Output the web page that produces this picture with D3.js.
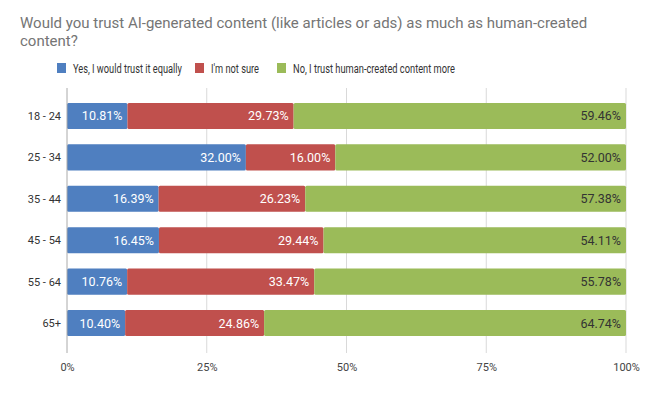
<!DOCTYPE html>
<html>
<head>
<meta charset="utf-8">
<script src="https://d3js.org/d3.v7.min.js"></script>
<style>
  body { margin: 0; background: #fff; }
  svg { font-family: Roboto, "Noto Sans", sans-serif; }
</style>
</head>
<body>
<div class="chart"></div>
<script>
var w = 670;
var h = 407;

// datos
var ages = ["18 - 24", "25 - 34", "35 - 44", "45 - 54", "55 - 64", "65+"];
var seriesNames = ["Yes, I would trust it equally", "I'm not sure", "No, I trust human-created content more"];
var yes = [10.81, 32.00, 16.39, 16.45, 10.76, 10.40];
var notSure = [29.73, 16.00, 26.23, 29.44, 33.47, 24.86];
var no = [59.46, 52.00, 57.38, 54.11, 55.78, 64.74];
var colors = ["#4f7fc0", "#c0504d", "#9bbb59"];
var ticks = [0, 25, 50, 75, 100];

var rows = ages.map(function(a, i) {
  return { age: a, yes: yes[i], notSure: notSure[i], no: no[i] };
});
var keys = ["yes", "notSure", "no"];
var stacked = d3.stack().keys(keys)(rows);

var svg = d3.select(".chart")
  .append("svg")
  .attr("width", w)
  .attr("height", h);

var x = d3.scaleLinear().domain([0, 100]).range([67, 626]);
var y = d3.scaleBand().domain(ages).range([88, 351]).paddingInner(0.37).paddingOuter(0.36);

// titulo
svg.append("text")
  .attr("x", 20).attr("y", 28)
  .attr("fill", "#757575")
  .style("font-size", "15px")
  .text("Would you trust AI-generated content (like articles or ads) as much as human-created");
svg.append("text")
  .attr("x", 20).attr("y", 46)
  .attr("fill", "#757575")
  .style("font-size", "15px")
  .text("content?");

// leyenda (el texto original es mas estrecho)
var legX = [57, 195, 277];
var legLen = [109, 48, 162];
var leg = svg.selectAll(".leg")
  .data(seriesNames)
  .enter()
  .append("g")
  .attr("transform", function(d, i) { return "translate(" + legX[i] + ",63)"; });
leg.append("rect")
  .attr("width", 9).attr("height", 10)
  .attr("fill", function(d, i) { return colors[i]; });
leg.append("text")
  .attr("x", 16).attr("y", 9.5)
  .attr("fill", "#333")
  .style("font-size", "12px")
  .attr("textLength", function(d, i) { return legLen[i]; })
  .attr("lengthAdjust", "spacingAndGlyphs")
  .text(function(d) { return d; });

// rejilla
svg.append("g")
  .selectAll("line")
  .data(ticks.slice(1))
  .enter()
  .append("line")
  .attr("x1", function(d) { return x(d); })
  .attr("x2", function(d) { return x(d); })
  .attr("y1", 88).attr("y2", 353)
  .attr("stroke", "#d9d9d9");

// eje x
var xAxis = svg.append("g")
  .attr("transform", "translate(0,353)")
  .call(d3.axisBottom(x).tickValues(ticks).tickFormat(function(d) { return d + "%"; }).tickSize(0).tickPadding(10));
xAxis.select(".domain").remove();
xAxis.selectAll("text").attr("fill", "#444").style("font-size", "11px").style("font-family", "Roboto, sans-serif");

// barras
var layer = svg.selectAll(".layer")
  .data(stacked)
  .enter()
  .append("g")
  .attr("fill", function(d, i) { return colors[i]; });

layer.selectAll("rect")
  .data(function(d) { return d; })
  .enter()
  .append("rect")
  .attr("x", function(d) { return x(d[0]); })
  .attr("y", function(d) { return y(d.data.age); })
  .attr("width", function(d) { return x(d[1]) - x(d[0]); })
  .attr("height", y.bandwidth())
  .attr("rx", 1.5);

// etiquetas
layer.each(function(s, si) {
  d3.select(this).selectAll("text")
    .data(s)
    .enter()
    .append("text")
    .attr("x", function(d) { return x(d[1]) - 5; })
    .attr("y", function(d) { return y(d.data.age) + y.bandwidth() / 2 + 4.5; })
    .attr("text-anchor", "end")
    .attr("fill", si == 2 ? "#333" : "#fff")
    .style("font-size", "12.5px")
    .text(function(d) { return (d[1] - d[0]).toFixed(2) + "%"; });
});

// eje cero
svg.append("line")
  .attr("x1", x(0)).attr("x2", x(0))
  .attr("y1", 88).attr("y2", 353)
  .attr("stroke", "#aaa");

// eje y
svg.append("g")
  .selectAll("text")
  .data(ages)
  .enter()
  .append("text")
  .attr("x", 61)
  .attr("y", function(d) { return y(d) + y.bandwidth() / 2 + 4; })
  .attr("text-anchor", "end")
  .attr("fill", "#333")
  .style("font-size", "11px")
  .text(function(d) { return d; });
</script>
</body>
</html>
